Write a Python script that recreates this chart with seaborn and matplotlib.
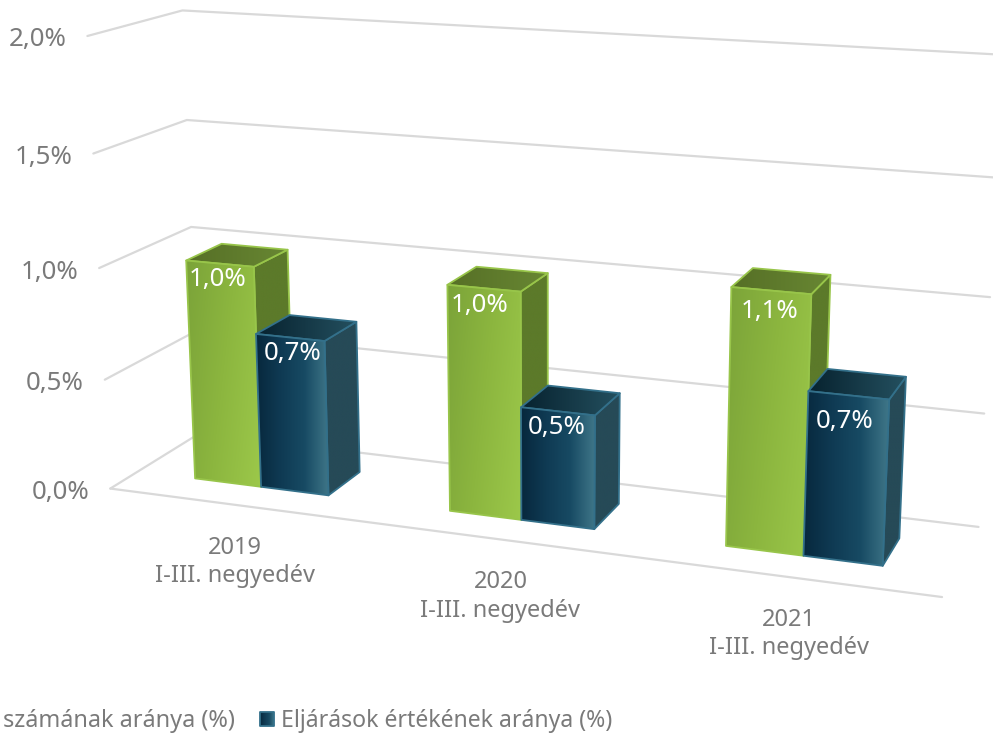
import numpy as np
import pandas as pd
import matplotlib
matplotlib.use("Agg")
import matplotlib.pyplot as plt
from matplotlib.colors import LinearSegmentedColormap
from matplotlib.patches import Polygon
import seaborn as sns

# chart values
periods = ["2019\nI-III. negyedév", "2020\nI-III. negyedév", "2021\nI-III. negyedév"]
count_share = [1.0, 1.0, 1.1]
value_share = [0.7, 0.5, 0.7]
series_names = ["Eljárások számának aránya (%)", "Eljárások értékének aránya (%)"]
value_ticks = [0.0, 0.5, 1.0, 1.5, 2.0]

# camera calibration: box corners (x, depth, value) and where they land in the image
box_world = [(0, 0, 0), (0, 0, .5), (0, 0, 1), (0, 0, 1.5), (0, 0, 2),
             (0, 1, 0), (0, 1, .5), (0, 1, 1), (0, 1, 1.5), (0, 1, 2),
             (1, 1, 0), (1, 1, .5), (1, 1, 1), (1, 1, 1.5), (1, 1, 2),
             (1, 0, 0)]
box_pixel = [(111, 488), (105, 379), (99, 268), (93, 154), (87, 36),
             (199, 434), (195, 332), (191, 227), (187, 120), (183, 10),
             (978, 527), (985, 412), (990, 297), (996, 178), (1002, 55),
             (942, 598)]

GREY_LINE = "#d9d9d9"
GREY_TEXT = "#7a7a7a"
DEPTH_FRONT, DEPTH_BACK = 0.3, 0.7

# hand placement of the data labels, pixels from the top centre of the front face
label_nudge = [[(-2, 16), (-4, 17), (-2, 21)], [(3, 16), (-1, 16), (-4, 26)]]

face_colors = {
    0: {"front": ["#7ba339", "#8cb63f", "#9cc84a"], "top": ["#566f26", "#688733"],
        "side": ["#5c7a2a", "#5c7a2a"], "edge": "#98c54a", "diagonal": 0.35},
    1: {"front": ["#07283d", "#0f3a53", "#174a63", "#3f7688"], "top": ["#07222f", "#24505f"],
        "side": ["#264a57", "#264a57"], "edge": "#33708a", "diagonal": 0.0},
}


def fit_camera(world, pixel):
    rows, rhs = [], []
    for (x, y, z), (u, v) in zip(world, pixel):
        rows.append([x, y, z, 1, 0, 0, 0, 0, -u * x, -u * y, -u * z])
        rows.append([0, 0, 0, 0, x, y, z, 1, -v * x, -v * y, -v * z])
        rhs += [u, v]
    p = np.linalg.lstsq(np.array(rows, float), np.array(rhs, float), rcond=None)[0]
    return np.append(p, 1).reshape(3, 4)


camera = fit_camera(box_world, box_pixel)


def project(x, y, z):
    u, v, w = camera @ np.array([x, y, z, 1.0])
    return u / w, v / w


def draw_face(ax, corners, colors, edge, diagonal=0.0):
    corners = np.array(corners)
    x0, y0 = corners.min(axis=0)
    x1, y1 = corners.max(axis=0)
    uu, vv = np.meshgrid(np.linspace(0, 1, 128), np.linspace(0, 1, 128))
    cmap = LinearSegmentedColormap.from_list("face", colors)
    im = ax.imshow((uu + diagonal * vv) / (1 + diagonal), cmap=cmap, vmin=0, vmax=1,
                   extent=(x0, x1, y1, y0), aspect="auto", zorder=3)
    outline = Polygon(corners, closed=True, facecolor="none", edgecolor=edge, lw=1.3,
                      joinstyle="round", zorder=3)
    ax.add_patch(outline)
    im.set_clip_path(outline)


sns.set_theme(style="white")
plt.rcParams["font.family"] = ["Noto Sans", "DejaVu Sans"]

df = pd.DataFrame({
    "period": periods * 2,
    "share": count_share + value_share,
    "series": [series_names[0]] * 3 + [series_names[1]] * 3,
})

fig = plt.figure(figsize=(9.93, 7.33), dpi=100, facecolor="white")

# seaborn lays out the flat bars, they are then put through the camera
helper = fig.add_axes([0, 0, 1, 1])
sns.barplot(data=df, x="period", y="share", hue="series", width=0.533, legend=False, ax=helper)
flat_bars = [[(r.get_x(), r.get_width(), r.get_height()) for r in c] for c in helper.containers]
helper.set_visible(False)

ax = fig.add_axes([0, 0, 1, 1])

# walls and floor
for val in value_ticks:
    pts = [project(0, 0, val), project(0, 1, val), project(1, 1, val)]
    ax.plot(*zip(*pts), color=GREY_LINE, lw=1.6, zorder=1)
    lx, ly = pts[0]
    ax.text(lx - 21, ly + 4, f"{val:.1f}%".replace(".", ","), ha="right", va="center",
            color=GREY_TEXT, fontsize=18.6)
ax.plot(*zip(project(0, 0, 0), project(1, 0, 0)), color=GREY_LINE, lw=1.6, zorder=1)

# bars, left to right
for cat in range(len(periods)):
    for s in range(2):
        left, width, height = flat_bars[s][cat]
        x0 = (left + 0.5) / len(periods)
        x1 = (left + width + 0.5) / len(periods)
        c = face_colors[s]
        ya, yb = DEPTH_FRONT, DEPTH_BACK
        draw_face(ax, [project(x1, ya, 0), project(x1, yb, 0), project(x1, yb, height), project(x1, ya, height)],
                  c["side"], c["edge"])
        draw_face(ax, [project(x0, ya, height), project(x1, ya, height), project(x1, yb, height), project(x0, yb, height)],
                  c["top"], c["edge"])
        front = [project(x0, ya, 0), project(x1, ya, 0), project(x1, ya, height), project(x0, ya, height)]
        draw_face(ax, front, c["front"], c["edge"], diagonal=c["diagonal"])
        tx, ty = project((x0 + x1) / 2, ya, height)
        dx, dy = label_nudge[s][cat]
        ax.text(tx + dx, ty + dy, f"{height:.1f}%".replace(".", ","), ha="center", va="center",
                color="white", fontsize=18.6, zorder=5)

# category labels under the front floor edge
for cat, label in enumerate(periods):
    lx, ly = project((cat + 0.5) / len(periods), 0, 0)
    ax.text(lx, ly + 57, label, ha="center", va="center", color=GREY_TEXT,
            fontsize=17, linespacing=1.25)

# legend, cut off on the left as in the source image
ax.text(235, 721, "számának aránya (%)", ha="right", va="center", color=GREY_TEXT, fontsize=16.9)
draw_face(ax, [(260, 712), (274, 712), (274, 726), (260, 726)], face_colors[1]["front"], face_colors[1]["edge"])
ax.text(281, 721, series_names[1], ha="left", va="center", color=GREY_TEXT, fontsize=16.6)

ax.set_xlim(0, 993)
ax.set_ylim(733, 0)
ax.axis("off")

fig.savefig("out.png", dpi=100, facecolor="white")
